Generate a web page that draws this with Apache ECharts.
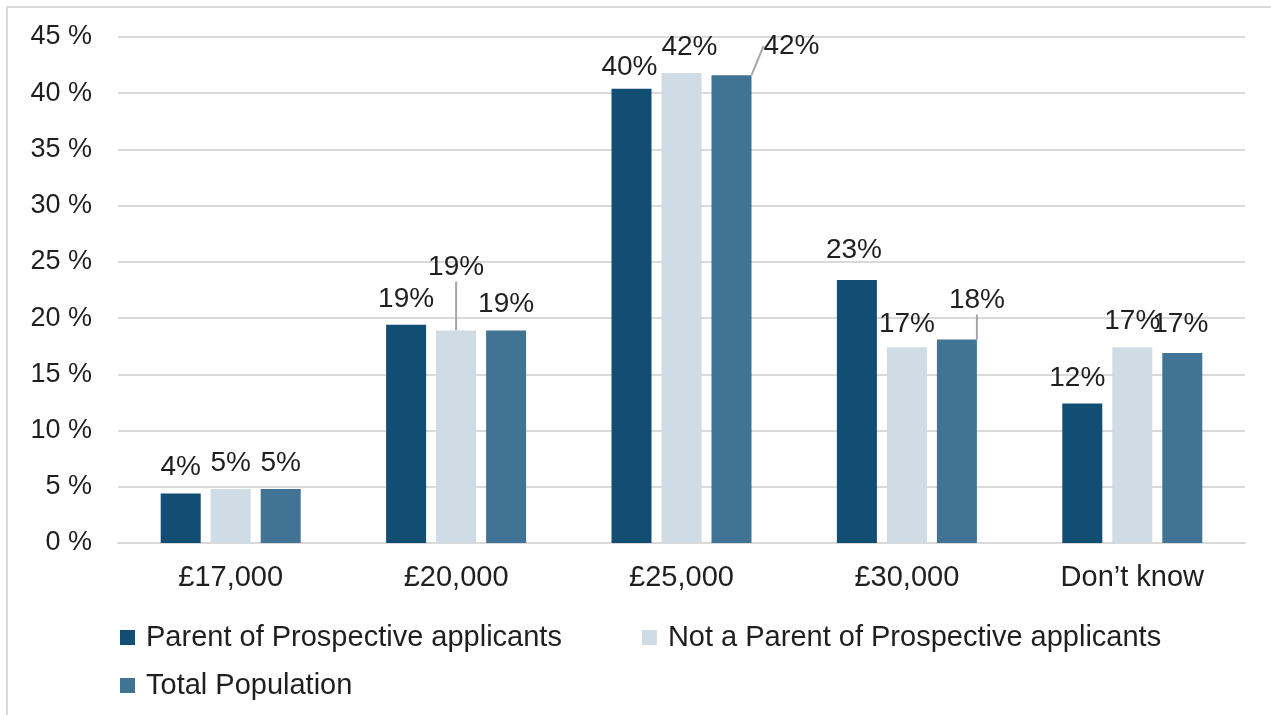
<!DOCTYPE html>
<html lang="en">

<head>
    <meta charset="UTF-8">
    <title>Salary expectations</title>
    <style>
        html, body { margin: 0; padding: 0; background: #fff; }
        #main { width: 1271px; height: 715px; }
    </style>
</head>

<body>
    <div id="main"></div>

    <script src="https://cdn.jsdelivr.net/npm/echarts@6.0.0/dist/echarts.min.js"></script>
    <script>
        // data (percent)
        var categories = ['£17,000', '£20,000', '£25,000', '£30,000', 'Don’t know']
        var seriesNames = ['Parent of Prospective applicants', 'Not a Parent of Prospective applicants', 'Total Population']
        var parentVals = [4.4, 19.4, 40.4, 23.4, 12.4]
        var notParentVals = [4.8, 18.9, 41.8, 17.4, 17.4]
        var totalVals = [4.8, 18.9, 41.6, 18.1, 16.9]
        var yTicks = [0, 5, 10, 15, 20, 25, 30, 35, 40, 45]

        // hand-placed label nudges, like the original (series -> dataIndex -> [dx, dy, leader line])
        var labelShift = [
            { 2: [-2, 5], 3: [-3, -4], 4: [-5, 1] },
            { 1: [0, -37, true], 2: [8, 0], 3: [0, 3] },
            { 2: [60, -3, true], 3: [20, -13, true], 4: [-2, -3] }
        ]

        var colors = ['#124e74', '#cfdce5', '#417494']
        var textColor = '#1f1f1f'
        var font = 'Liberation Sans, Arial, sans-serif'

        function makeSeries(idx, vals) {
            return {
                name: seriesNames[idx],
                type: 'bar',
                barWidth: 40,
                barGap: '25%',
                itemStyle: { color: colors[idx] },
                data: vals.map(function (v, i) {
                    var s = labelShift[idx][i]
                    return {
                        value: v,
                        labelLine: { show: !!(s && s[2]) }
                    }
                }),
                label: {
                    show: true,
                    position: 'top',
                    distance: 12,
                    color: textColor,
                    fontFamily: font,
                    fontSize: 28,
                    formatter: function (p) { return Math.round(p.value) + '%' }
                },
                labelLine: {
                    lineStyle: { color: '#a6a6a6', width: 2 }
                },
                labelLayout: function (p) {
                    var s = labelShift[idx][p.dataIndex]
                    if (!s) return {}
                    return { dx: s[0], dy: s[1] }
                }
            }
        }

        // the legend wraps like the original: two items on the first row, one on the second
        function makeLegend(names, top) {
            return {
                left: 115, top: top,
                itemWidth: 15, itemHeight: 15, itemGap: 80,
                icon: 'rect',
                textStyle: {
                    color: textColor, fontFamily: font, fontSize: 29,
                    padding: [0, 0, 0, 6]
                },
                data: names
            }
        }

        var myChart = echarts.init(document.getElementById('main'))
        var option = {
            animation: false,
            backgroundColor: '#fff',
            graphic: [{
                type: 'rect',
                shape: { x: 7, y: 7, width: 1290, height: 740 },
                style: { fill: 'none', stroke: '#d9d9d9', lineWidth: 2 },
                silent: true
            }],
            grid: {
                left: 118, right: 26, top: 37, bottom: 172,
                outerBoundsMode: 'none'
            },
            legend: [
                makeLegend(seriesNames.slice(0, 2), 618),
                makeLegend(seriesNames.slice(2), 666)
            ],
            xAxis: {
                type: 'category',
                data: categories,
                axisTick: { show: false },
                axisLine: { lineStyle: { color: '#d9d9d9', width: 2 } },
                axisLabel: { color: textColor, fontFamily: font, fontSize: 29, margin: 20 }
            },
            yAxis: {
                type: 'value',
                min: yTicks[0],
                max: yTicks[yTicks.length - 1],
                interval: yTicks[1] - yTicks[0],
                axisLine: { show: false },
                axisTick: { show: false },
                splitLine: { lineStyle: { color: '#d9d9d9', width: 2 } },
                axisLabel: {
                    color: textColor, fontFamily: font, fontSize: 27, margin: 26,
                    formatter: '{value} %'
                }
            },
            series: [
                makeSeries(0, parentVals),
                makeSeries(1, notParentVals),
                makeSeries(2, totalVals)
            ]
        }
        myChart.setOption(option)
    </script>
</body>

</html>
